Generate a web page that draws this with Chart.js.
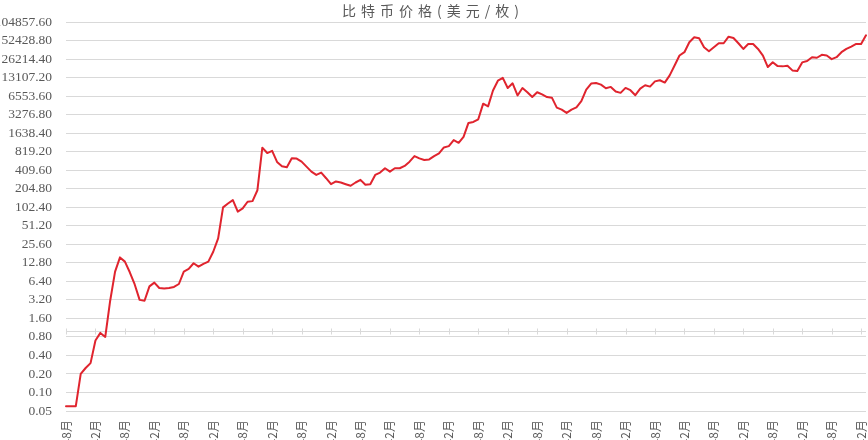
<!DOCTYPE html>
<html>
<head>
<meta charset="utf-8">
<script src="https://cdn.jsdelivr.net/npm/chart.js@4.4.1/dist/chart.umd.min.js"></script>
<style>
  html, body { margin: 0; padding: 0; overflow: hidden; background: #ffffff; width: 868px; height: 440px; }
  #wrap { width: 868px; height: 500px; }
</style>
</head>
<body>
<div id="wrap"><canvas id="c" width="868" height="500"></canvas></div>
<script>
const titleText = '比特币价格(美元/枚)';

// categories: monthly, 2010年8月 .. 2024年3月
const startYear = 2010;
const startMonth = 8;
const monthCount = 164;
const months = [];
for (let k = 0; k < monthCount; k++) {
  const m = (startMonth - 1 + k) % 12 + 1;
  const y = startYear + Math.floor((startMonth - 1 + k) / 12);
  months.push(y + '年' + m + '月');
}

// Bitcoin price (USD)
const prices = [
  0.06, 0.06, 0.06, 0.20, 0.25, 0.30, 0.70, 0.93, 0.80, 3.1,
  9.2, 15.7, 13.4, 9.0, 5.7, 3.2, 3.1, 5.3, 6.1, 5.0,
  4.9, 5.0, 5.2, 5.8, 9.2, 10.2, 12.6, 11.1, 12.3, 13.4,
  19.4, 32, 102, 118, 134, 87, 98, 126, 129, 194,
  954, 780, 845, 560, 477, 460, 640, 635, 565, 469,
  389, 344, 375, 304, 243, 269, 259, 243, 229, 259,
  286, 238, 243, 344, 375, 441, 389, 441, 441, 481,
  565, 697, 639, 601, 615, 697, 770, 963, 1010, 1266,
  1145, 1432, 2410, 2500, 2760, 4950, 4480, 8100, 11700, 13000,
  8900, 10600, 6740, 8900, 7600, 6350, 7600, 7000, 6350, 6200,
  4270, 3960, 3500, 3960, 4300, 5440, 8400, 10500, 10700, 10100,
  8800, 9270, 7800, 7420, 8930, 8200, 6800, 8700, 9860, 9380,
  11400, 11900, 10900, 14300, 20700, 30000, 34000, 49300, 59400, 57200,
  40900, 35300, 40900, 47500, 47500, 60800, 57900, 47500, 38400, 46300,
  46300, 38400, 30000, 19500, 23400, 20200, 20000, 20500, 17200, 16800,
  23200, 24400, 28200, 27600, 30800, 30000, 26200, 28200, 34000, 38400,
  42000, 46300, 46300, 64000
];

// y-axis tick values (log base 2 spacing)
const yTickValues = [
  0.05, 0.10, 0.20, 0.40, 0.80, 1.60, 3.20, 6.40, 12.80, 25.60, 51.20,
  102.40, 204.80, 409.60, 819.20, 1638.40, 3276.80, 6553.60, 13107.20,
  26214.40, 52428.80, 104857.60
];

const labelEvery = 6;
const axisCrossValue = 1;

const axisAtOne = {
  id: 'axisAtOne',
  beforeDatasetsDraw(chart) {
    const { ctx, chartArea, scales } = chart;
    const py = Math.round(scales.y.getPixelForValue(axisCrossValue)) + 0.5;
    ctx.save();
    ctx.strokeStyle = '#d9d9d9';
    ctx.lineWidth = 1;
    ctx.beginPath();
    ctx.moveTo(chartArea.left, py);
    ctx.lineTo(chartArea.right, py);
    for (let i = 0; i < months.length; i += labelEvery) {
      const px = Math.round(scales.x.getPixelForValue(i)) + 0.5;
      ctx.moveTo(px, py - 3);
      ctx.lineTo(px, py + 3);
    }
    ctx.stroke();
    ctx.restore();
  }
};

const spacedTitle = {
  id: 'spacedTitle',
  afterLayout(chart) {
    const tb = chart.titleBlock;
    if (tb && !tb._spaced) {
      const orig = tb.draw;
      tb.draw = function () {
        const c = this.ctx;
        c.save();
        c.letterSpacing = '5px';
        orig.apply(this, arguments);
        c.restore();
      };
      tb._spaced = true;
    }
  }
};

new Chart(document.getElementById('c'), {
  type: 'line',
  data: {
    labels: months,
    datasets: [{
      data: prices,
      borderColor: '#e0242e',
      borderWidth: 2,
      pointRadius: 0,
      tension: 0,
      fill: false,
      borderJoinStyle: 'round',
      borderCapStyle: 'round'
    }]
  },
  options: {
    responsive: false,
    animation: false,
    layout: { padding: { left: 0, right: 2, top: 0, bottom: 0 } },
    plugins: {
      legend: { display: false },
      tooltip: { enabled: false },
      title: {
        display: true,
        text: titleText,
        color: '#595959',
        font: { family: 'Noto Sans CJK SC', size: 14, weight: 'normal' },
        padding: { top: 1, bottom: 3 }
      }
    },
    scales: {
      x: {
        type: 'category',
        grid: { display: false, drawTicks: false },
        border: { display: false },
        ticks: {
          autoSkip: false,
          maxRotation: 90,
          minRotation: 90,
          padding: 9,
          color: '#595959',
          font: { family: 'Noto Sans CJK SC', size: 12 },
          callback: (v, i) => (i % labelEvery === 0 ? months[i] : null)
        },
        afterFit: (s) => { s.height = 89; s.paddingLeft = 0; s.paddingRight = 0; }
      },
      y: {
        type: 'logarithmic',
        min: yTickValues[0],
        max: yTickValues[yTickValues.length - 1],
        afterBuildTicks: (s) => { s.ticks = yTickValues.map(v => ({ value: v })); },
        grid: { color: '#d9d9d9', lineWidth: 1, drawTicks: false },
        border: { display: false },
        ticks: {
          autoSkip: false,
          padding: 14,
          color: '#595959',
          font: { family: 'Liberation Serif', size: 13.5 },
          callback: (v) => Number(v).toFixed(2)
        },
        afterFit: (s) => { s.width = 66; }
      }
    }
  },
  plugins: [axisAtOne, spacedTitle]
});
</script>
</body>
</html>
